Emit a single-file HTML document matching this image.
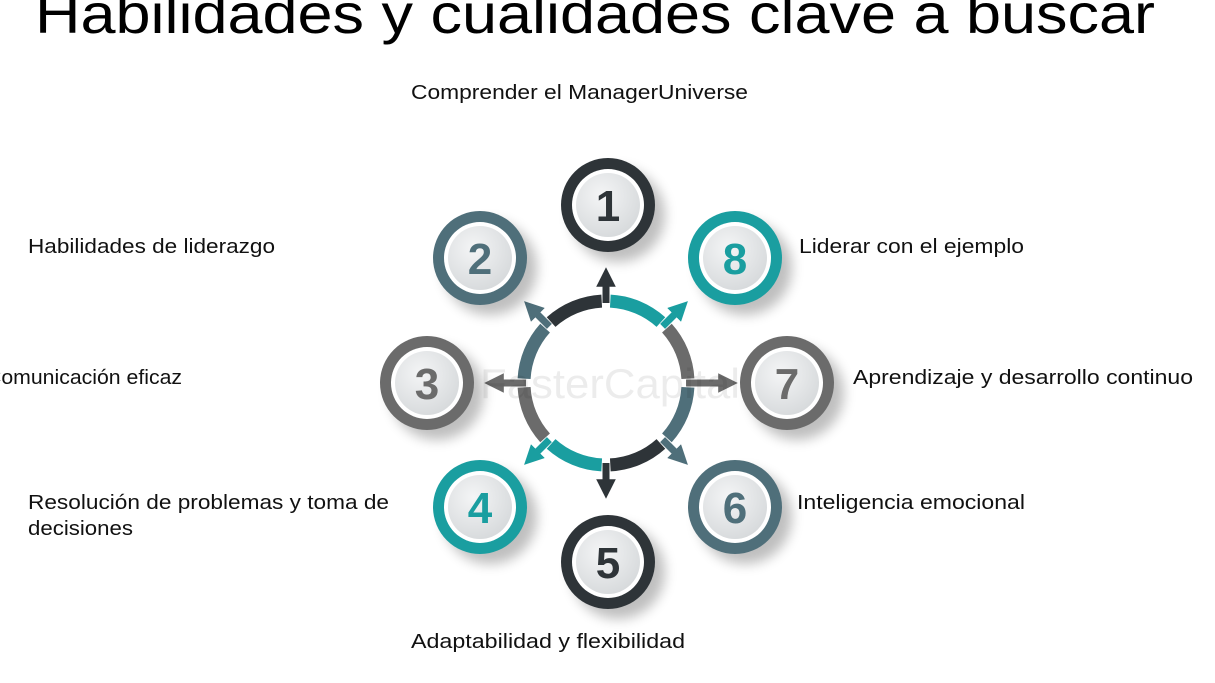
<!DOCTYPE html>
<html><head><meta charset="utf-8"><style>
html,body{margin:0;padding:0;background:#fff;width:1215px;height:683px;overflow:hidden}
svg{display:block}
.t{font-family:"Liberation Sans",sans-serif;font-size:20px;fill:#111}
.n{font-family:"Liberation Sans",sans-serif;font-size:44px;font-weight:bold;text-anchor:middle}
</style></head><body>
<svg width="1215" height="683" viewBox="0 0 1215 683" xmlns="http://www.w3.org/2000/svg">
<defs>
<radialGradient id="g" cx="40%" cy="35%" r="70%"><stop offset="0" stop-color="#f4f5f6"/><stop offset="1" stop-color="#d6d9db"/></radialGradient>
<filter id="s" x="-50%" y="-50%" width="200%" height="200%"><feGaussianBlur stdDeviation="6"/></filter>
<marker id="ah" viewBox="0 0 10 10" refX="5" refY="5" markerWidth="2.8" markerHeight="2.8" orient="auto"><path d="M0,0 L10,5 L0,10 z" fill="context-stroke"/></marker>
</defs>
<text x="35" y="33" font-family="Liberation Sans,sans-serif" font-size="56" textLength="1120" lengthAdjust="spacingAndGlyphs" fill="#000">Habilidades y cualidades clave a buscar</text>

<text class="t" x="411" y="99" textLength="337" lengthAdjust="spacingAndGlyphs">Comprender el ManagerUniverse</text>
<text class="t" x="28" y="253" textLength="247" lengthAdjust="spacingAndGlyphs">Habilidades de liderazgo</text>
<text class="t" x="799" y="253" textLength="225" lengthAdjust="spacingAndGlyphs">Liderar con el ejemplo</text>
<text class="t" x="-14" y="384" textLength="196" lengthAdjust="spacingAndGlyphs">Comunicación eficaz</text>
<text class="t" x="853" y="384" textLength="340" lengthAdjust="spacingAndGlyphs">Aprendizaje y desarrollo continuo</text>
<text class="t" x="28" y="509" textLength="361" lengthAdjust="spacingAndGlyphs">Resolución de problemas y toma de</text>
<text class="t" x="28" y="535" textLength="105" lengthAdjust="spacingAndGlyphs">decisiones</text>
<text class="t" x="797" y="509" textLength="228" lengthAdjust="spacingAndGlyphs">Inteligencia emocional</text>
<text class="t" x="411" y="648" textLength="274" lengthAdjust="spacingAndGlyphs">Adaptabilidad y flexibilidad</text>

<!-- ring segments -->
<g fill="none" stroke-width="13">
<path d="M551.1,322.1 A82,82 0 0 1 601.7,301.1" stroke="#2e3438"/>
<path d="M610.3,301.1 A82,82 0 0 1 660.9,322.1" stroke="#1a9ea0"/>
<path d="M666.9,328.1 A82,82 0 0 1 687.9,378.7" stroke="#6b6b6b"/>
<path d="M687.9,387.3 A82,82 0 0 1 666.9,437.9" stroke="#4f6f7a"/>
<path d="M660.9,443.9 A82,82 0 0 1 610.3,464.9" stroke="#2e3438"/>
<path d="M601.7,464.9 A82,82 0 0 1 551.1,443.9" stroke="#1a9ea0"/>
<path d="M545.1,437.9 A82,82 0 0 1 524.1,387.3" stroke="#6b6b6b"/>
<path d="M524.1,378.7 A82,82 0 0 1 545.1,328.1" stroke="#4f6f7a"/>
</g>
<!-- arrows -->
<g stroke-width="7" fill="none" marker-end="url(#ah)">
<path d="M606,303 L606,277" stroke="#2e3438"/>
<path d="M662.6,326.4 L681,308" stroke="#1a9ea0"/>
<path d="M686,383 L728,383" stroke="#6b6b6b"/>
<path d="M662.6,439.6 L681,458" stroke="#4f6f7a"/>
<path d="M606,463 L606,489" stroke="#2e3438"/>
<path d="M549.4,439.6 L531,458" stroke="#1a9ea0"/>
<path d="M526,383 L494,383" stroke="#6b6b6b"/>
<path d="M549.4,326.4 L531,308" stroke="#4f6f7a"/>
</g>

<g>
<g transform="translate(608,205)"><circle cx="10" cy="10" r="47" fill="#000" opacity=".25" filter="url(#s)"/><circle r="47" fill="#2e3438"/><circle r="36" fill="#fff"/><circle r="32" fill="url(#g)"/><text class="n" y="16" fill="#2e3438">1</text></g>
<g transform="translate(480,258)"><circle cx="10" cy="10" r="47" fill="#000" opacity=".25" filter="url(#s)"/><circle r="47" fill="#4f6f7a"/><circle r="36" fill="#fff"/><circle r="32" fill="url(#g)"/><text class="n" y="16" fill="#4f6f7a">2</text></g>
<g transform="translate(427,383)"><circle cx="10" cy="10" r="47" fill="#000" opacity=".25" filter="url(#s)"/><circle r="47" fill="#6b6b6b"/><circle r="36" fill="#fff"/><circle r="32" fill="url(#g)"/><text class="n" y="16" fill="#6b6b6b">3</text></g>
<g transform="translate(480,507)"><circle cx="10" cy="10" r="47" fill="#000" opacity=".25" filter="url(#s)"/><circle r="47" fill="#1a9ea0"/><circle r="36" fill="#fff"/><circle r="32" fill="url(#g)"/><text class="n" y="16" fill="#1a9ea0">4</text></g>
<g transform="translate(608,562)"><circle cx="10" cy="10" r="47" fill="#000" opacity=".25" filter="url(#s)"/><circle r="47" fill="#2e3438"/><circle r="36" fill="#fff"/><circle r="32" fill="url(#g)"/><text class="n" y="16" fill="#2e3438">5</text></g>
<g transform="translate(735,507)"><circle cx="10" cy="10" r="47" fill="#000" opacity=".25" filter="url(#s)"/><circle r="47" fill="#4f6f7a"/><circle r="36" fill="#fff"/><circle r="32" fill="url(#g)"/><text class="n" y="16" fill="#4f6f7a">6</text></g>
<g transform="translate(787,383)"><circle cx="10" cy="10" r="47" fill="#000" opacity=".25" filter="url(#s)"/><circle r="47" fill="#6b6b6b"/><circle r="36" fill="#fff"/><circle r="32" fill="url(#g)"/><text class="n" y="16" fill="#6b6b6b">7</text></g>
<g transform="translate(735,258)"><circle cx="10" cy="10" r="47" fill="#000" opacity=".25" filter="url(#s)"/><circle r="47" fill="#1a9ea0"/><circle r="36" fill="#fff"/><circle r="32" fill="url(#g)"/><text class="n" y="16" fill="#1a9ea0">8</text></g>
</g>
<text x="480" y="398" font-family="Liberation Sans,sans-serif" font-size="42" fill="#000" opacity=".07" textLength="260" lengthAdjust="spacingAndGlyphs">FasterCapital</text>
</svg>
</body></html>
